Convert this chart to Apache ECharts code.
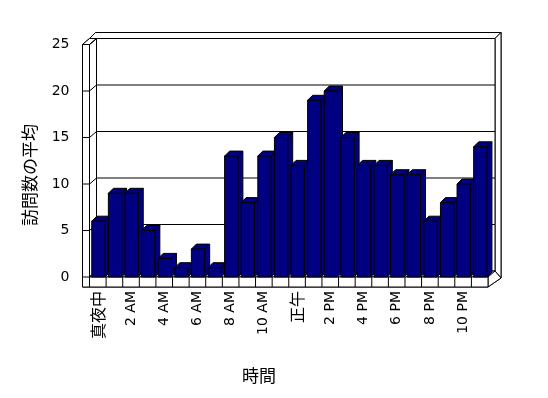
<!DOCTYPE html>
<html>
<head>
<meta charset="utf-8">
<script src="https://cdn.jsdelivr.net/npm/echarts@6/dist/echarts.min.js"></script>
<style>html,body{margin:0;padding:0;background:#fff}#c{width:548px;height:398px}</style>
</head>
<body>
<div id="c"></div>
<script>
const hours = ['真夜中','1 AM','2 AM','3 AM','4 AM','5 AM','6 AM','7 AM','8 AM','9 AM','10 AM','11 AM',
  '正午','1 PM','2 PM','3 PM','4 PM','5 PM','6 PM','7 PM','8 PM','9 PM','10 PM','11 PM'];
const visits = [6, 9, 9, 5, 2, 1, 3, 1, 13, 8, 13, 15, 12, 19, 20, 15, 12, 12, 11, 11, 6, 8, 10, 14];
const yTicks = [0, 5, 10, 15, 20, 25];
const yTitle = '訪問数の平均';
const xTitle = '時間';

const BAR = '#000080';
const LINE = '#000';
const chart = echarts.init(document.getElementById('c'), null, {renderer: 'canvas'});

function frameItem(params, api) {
  const cs = params.coordSys;
  const X0 = cs.x, X1 = cs.x + cs.width;
  const Yb = api.coord([0, yTicks[0]])[1];
  const Yt = api.coord([0, yTicks[yTicks.length - 1]])[1];
  const DX = 7, DY = -6, TW = 7, FT = 10, BT = 6;
  const st = {fill: '#fff', stroke: LINE, lineWidth: 1};
  const ln = {stroke: LINE, lineWidth: 1, fill: null};
  const ch = [];
  // outer silhouette
  ch.push({type: 'polygon', shape: {points: [
    [X0 - TW, Yb + FT], [X0 - TW, Yt], [X0 - TW + DX, Yt + DY], [X0 - TW + DX + BT, Yt + DY - BT],
    [X1 + DX + BT, Yt + DY - BT], [X1 + DX + BT, Yb + FT + DY - 3], [X1, Yb + FT]]}, style: st});
  // back wall top thickness
  ch.push({type: 'polygon', shape: {points: [
    [X0 - TW + DX, Yt + DY], [X1 + DX, Yt + DY], [X1 + DX + BT, Yt + DY - BT], [X0 - TW + DX + BT, Yt + DY - BT]]}, style: st});
  // back wall right thickness
  ch.push({type: 'polygon', shape: {points: [
    [X1 + DX, Yt + DY], [X1 + DX + BT, Yt + DY - BT], [X1 + DX + BT, Yb + FT + DY - 3], [X1 + DX, Yb + DY]]}, style: st});
  // back wall
  ch.push({type: 'rect', shape: {x: X0 + DX, y: Yt + DY, width: X1 - X0, height: Yb - Yt}, style: st});
  // left wall inner face
  ch.push({type: 'polygon', shape: {points: [[X0, Yt], [X0 + DX, Yt + DY], [X0 + DX, Yb + DY], [X0, Yb]]}, style: st});
  // left wall top
  ch.push({type: 'polygon', shape: {points: [[X0 - TW, Yt], [X0, Yt], [X0 + DX, Yt + DY], [X0 - TW + DX, Yt + DY]]}, style: st});
  // left wall front face
  ch.push({type: 'rect', shape: {x: X0 - TW, y: Yt, width: TW, height: Yb + FT - Yt}, style: st});
  // gridlines + ticks
  yTicks.forEach(function (v) {
    const y = api.coord([0, v])[1];
    if (v > yTicks[0] && v < yTicks[yTicks.length - 1]) {
      ch.push({type: 'line', shape: {x1: X0 + DX, y1: y + DY, x2: X1 + DX, y2: y + DY}, style: ln});
    }
    ch.push({type: 'line', shape: {x1: X0, y1: y, x2: X0 + DX, y2: y + DY}, style: ln});
    ch.push({type: 'line', shape: {x1: X0 - TW, y1: y, x2: X0, y2: y}, style: ln});
  });
  // floor top
  ch.push({type: 'polygon', shape: {points: [[X0, Yb], [X0 + DX, Yb + DY], [X1 + DX, Yb + DY], [X1, Yb]]}, style: st});
  // floor right face
  ch.push({type: 'polygon', shape: {points: [[X1, Yb], [X1 + DX, Yb + DY], [X1 + DX + BT, Yb + FT + DY - 3], [X1, Yb + FT]]}, style: st});
  // floor front face
  ch.push({type: 'rect', shape: {x: X0, y: Yb, width: X1 - X0, height: FT}, style: st});
  const bw = api.size([1, 0])[0];
  for (let k = 1; k < hours.length; k++) {
    const x = api.coord([k, 0])[0] - bw / 2;
    ch.push({type: 'line', shape: {x1: x, y1: Yb, x2: x, y2: Yb + FT}, style: ln});
  }
  return {type: 'group', children: ch};
}

function barItem(params, api) {
  const i = api.value(0), v = api.value(1);
  const top = api.coord([i, v]);
  const base = api.coord([i, 0]);
  const w = api.size([1, 0])[0] * 0.8;
  const cx = top[0] + 0.6;
  const L = cx - w / 2, R = cx + w / 2, T = top[1], B = base[1];
  const d = 5;
  const st = {fill: BAR, stroke: LINE, lineWidth: 1};
  return {type: 'group', children: [
    {type: 'polygon', shape: {points: [[R, B], [R, T], [R + d, T - d], [R + d, B - d]]}, style: st},
    {type: 'polygon', shape: {points: [[L, T], [R, T], [R + d, T - d], [L + d, T - d]]}, style: st},
    {type: 'rect', shape: {x: L, y: T, width: w, height: B - T}, style: st}
  ]};
}

chart.setOption({
  animation: false,
  backgroundColor: '#fff',
  textStyle: {fontFamily: 'DejaVu Sans, Noto Sans CJK JP', color: '#000'},
  grid: {left: 89.5, right: 60, top: 44.5, bottom: 121, containLabel: false},
  xAxis: {
    type: 'category', data: hours,
    axisLine: {show: false}, axisTick: {show: false}, splitLine: {show: false},
    axisLabel: {
      interval: 1, rotate: 90, margin: 14, fontSize: 14, color: '#000',
      fontFamily: 'DejaVu Sans',
      formatter: function (v) { return /[^\x00-\x7F]/.test(v) ? '{c|' + v + '}' : v; },
      rich: {c: {fontSize: 16, fontFamily: 'Noto Sans CJK JP', color: '#000'}}
    }
  },
  yAxis: {
    type: 'value', min: yTicks[0], max: yTicks[yTicks.length - 1], interval: 5,
    axisLine: {show: false}, axisTick: {show: false}, splitLine: {show: false},
    axisLabel: {margin: 20, fontSize: 14, color: '#000', fontFamily: 'DejaVu Sans'}
  },
  graphic: [
    {type: 'text', x: 30, y: 175, rotation: Math.PI / 2,
     style: {text: yTitle, fontSize: 17, fontFamily: 'Noto Sans CJK JP', fill: '#000', textAlign: 'center', textVerticalAlign: 'middle'}},
    {type: 'text', x: 259, y: 376,
     style: {text: xTitle, fontSize: 17, fontFamily: 'Noto Sans CJK JP', fill: '#000', textAlign: 'center', textVerticalAlign: 'middle'}}
  ],
  series: [
    {type: 'custom', renderItem: frameItem, data: [[0, 0]], z: 1, silent: true, clip: false},
    {type: 'custom', renderItem: barItem, data: visits.map(function (v, i) { return [i, v]; }),
     encode: {x: 0, y: 1}, z: 2, silent: true, clip: false}
  ]
});
</script>
</body>
</html>
